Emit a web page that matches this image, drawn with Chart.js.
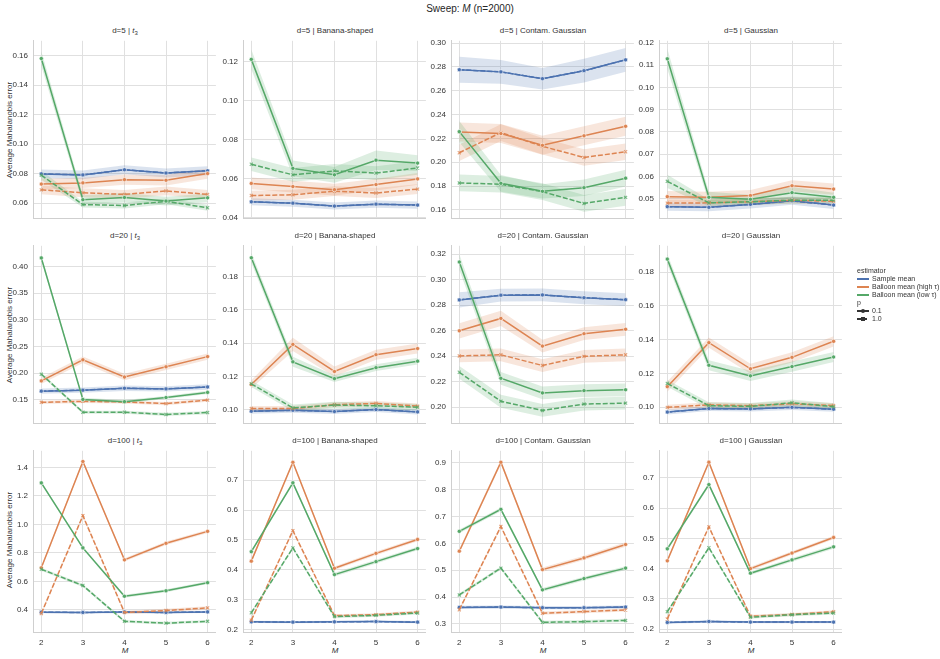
<!DOCTYPE html>
<html><head><meta charset="utf-8">
<script src="https://cdn.jsdelivr.net/npm/chart.js@4.4.1/dist/chart.umd.min.js"></script>
<style>
body{margin:0;background:#fff;width:940px;height:659px;position:relative;overflow:hidden;font-family:"Liberation Sans",Arial,sans-serif;color:#262626}
.abs{position:absolute}
.ptitle{position:absolute;font-size:8px;line-height:10px;font-weight:normal;color:#333;transform:translateX(-50%);white-space:nowrap}
.ptitle sub{font-size:6px;vertical-align:-2px;line-height:0}
.ylab{position:absolute;font-size:8px;color:#333;white-space:nowrap;transform:translate(-50%,-50%) rotate(-90deg)}
.xlab{position:absolute;font-size:8px;color:#333;font-style:italic;transform:translateX(-50%)}
.leg{position:absolute;left:857px;top:267px;font-size:7px;line-height:8px;color:#333}
.leg .row{position:relative;height:8px;white-space:nowrap}
.leg .ln{position:absolute;left:0;top:3px;width:12px;height:2px}
.leg .tx{position:absolute;left:15px;top:0}
.leg .mk{position:absolute;left:4px;top:2px;width:4px;height:4px;border-radius:50%;background:#333}
.leg .sq{position:absolute;left:4px;top:2px;width:4px;height:4px;background:#333}
</style></head>
<body>
<div class="abs" style="left:0;width:940px;top:3px;text-align:center;font-size:10px">Sweep: <i>M</i> (n=2000)</div>
<div id="root"></div>
<div class="leg">
  <div class="row"><span class="tx" style="left:0">estimator</span></div>
  <div class="row"><div class="ln" style="background:#4C72B0"></div><span class="tx">Sample mean</span></div>
  <div class="row"><div class="ln" style="background:#DD8452"></div><span class="tx">Balloon mean (high τ)</span></div>
  <div class="row"><div class="ln" style="background:#55A868"></div><span class="tx">Balloon mean (low τ)</span></div>
  <div class="row"><span class="tx" style="left:0">p</span></div>
  <div class="row"><div class="ln" style="background:#333"></div><div class="mk"></div><span class="tx">0.1</span></div>
  <div class="row"><div class="ln" style="background:repeating-linear-gradient(90deg,#333 0 4px,transparent 4px 6px)"></div><div class="sq"></div><span class="tx">1.0</span></div>
</div>
<script>
// ---------------- DATA ----------------
const M = [2, 3, 4, 5, 6];
const dims = ['d=5', 'd=20', 'd=100'];
const dists = ['<i>t</i><sub>3</sub>', 'Banana-shaped', 'Contam. Gaussian', 'Gaussian'];

// panels in row-major order: (d=5: t3, Banana, Contam, Gauss), (d=20 ...), (d=100 ...)
const sampleMean = [
  [0.0799,0.0792,0.0827,0.0805,0.0820],
  [0.0482,0.0475,0.0460,0.0470,0.0465],
  [0.2777,0.2759,0.2702,0.2769,0.2860],
  [0.0464,0.0461,0.0474,0.0490,0.0471],
  [0.1662,0.1680,0.1716,0.1704,0.1740],
  [0.0990,0.0996,0.0988,0.1000,0.0986],
  [0.2841,0.2878,0.2880,0.2858,0.2843],
  [0.0970,0.0991,0.0989,0.0998,0.0987],
  [0.384,0.382,0.385,0.382,0.386],
  [0.226,0.225,0.226,0.227,0.225],
  [0.3617,0.3629,0.3605,0.3605,0.3630],
  [0.2225,0.2257,0.2236,0.2236,0.2236]
];
const highTauP01 = [
  [0.0730,0.0738,0.0760,0.0756,0.0801],
  [0.0576,0.0560,0.0544,0.0570,0.0599],
  [0.2254,0.2241,0.2142,0.2222,0.2302],
  [0.0509,0.0506,0.0514,0.0558,0.0543],
  [0.1854,0.2250,0.1926,0.2118,0.2310],
  [0.1151,0.1392,0.1229,0.1330,0.1367],
  [0.2599,0.2696,0.2479,0.2576,0.2611],
  [0.1121,0.1382,0.1227,0.1295,0.1390],
  [0.695,1.441,0.751,0.867,0.951],
  [0.4289,0.7597,0.4050,0.4550,0.5016],
  [0.571,0.9024,0.5024,0.546,0.596],
  [0.4259,0.7514,0.4002,0.4516,0.5030]
];
const highTauP10 = [
  [0.0691,0.0671,0.0660,0.0684,0.0660],
  [0.0514,0.0518,0.0536,0.0527,0.0547],
  [0.2080,0.2249,0.2134,0.2040,0.2088],
  [0.0480,0.0481,0.0486,0.0493,0.0488],
  [0.1452,0.1470,0.1458,0.1428,0.1494],
  [0.1006,0.1006,0.1029,0.1037,0.1021],
  [0.2402,0.2411,0.2327,0.2399,0.2411],
  [0.0998,0.1013,0.1008,0.1019,0.1009],
  [0.375,1.061,0.382,0.3955,0.414],
  [0.2315,0.531,0.2466,0.250,0.2586],
  [0.353,0.663,0.340,0.346,0.352],
  [0.234,0.538,0.243,0.249,0.258]
];
const lowTauP01 = [
  [0.158,0.0624,0.0639,0.0615,0.0637],
  [0.1211,0.0653,0.0620,0.0695,0.0680],
  [0.2257,0.1823,0.1756,0.1786,0.1866],
  [0.1129,0.0506,0.0497,0.0527,0.0506],
  [0.4162,0.1506,0.1464,0.1542,0.1638],
  [0.1913,0.1287,0.1186,0.1252,0.1291],
  [0.3138,0.2227,0.2112,0.2130,0.2137],
  [0.1878,0.1248,0.1185,0.1240,0.1297],
  [1.291,0.835,0.4957,0.534,0.591],
  [0.4606,0.6909,0.3839,0.4273,0.471],
  [0.645,0.727,0.427,0.469,0.508],
  [0.4655,0.6775,0.385,0.429,0.472]
];
const lowTauP10 = [
  [0.0790,0.0591,0.0585,0.0613,0.0570],
  [0.0674,0.0620,0.0640,0.0629,0.0655],
  [0.1826,0.1815,0.1753,0.1654,0.1705],
  [0.0578,0.0481,0.0486,0.0493,0.0493],
  [0.1980,0.1266,0.1266,0.1224,0.1260],
  [0.1155,0.1010,0.1027,0.1023,0.1014],
  [0.2274,0.2047,0.1975,0.2025,0.2032],
  [0.1140,0.1008,0.1004,0.1025,0.1002],
  [0.685,0.571,0.320,0.307,0.320],
  [0.2564,0.4733,0.2434,0.2477,0.2553],
  [0.408,0.508,0.306,0.3085,0.313],
  [0.258,0.469,0.2396,0.248,0.2535]
];
// confidence-band half widths
const ciSample = [
  [0.003,0.003,0.003,0.003,0.003],[0.0018,0.0018,0.0018,0.0018,0.0018],[0.011,0.010,0.009,0.010,0.010],[0.0018,0.0018,0.0018,0.0018,0.0018],
  [0.005,0.005,0.005,0.005,0.005],[0.0015,0.0015,0.0015,0.0015,0.0015],[0.006,0.005,0.005,0.005,0.005],[0.0015,0.0015,0.0015,0.0015,0.0015],
  [0.008,0.008,0.008,0.008,0.008],[0.004,0.004,0.004,0.004,0.004],[0.006,0.006,0.006,0.006,0.006],[0.004,0.004,0.004,0.004,0.004]
];
const ciHighP01 = [
  [0.0038,0.0035,0.0035,0.0035,0.0035],[0.003,0.003,0.003,0.003,0.003],[0.008,0.008,0.008,0.008,0.008],[0.0025,0.0025,0.0025,0.0025,0.0025],
  [0.006,0.006,0.006,0.006,0.006],[0.0025,0.004,0.003,0.003,0.003],[0.006,0.006,0.005,0.005,0.005],[0.003,0.003,0.003,0.003,0.003],
  [0.012,0.012,0.012,0.012,0.012],[0.006,0.006,0.006,0.006,0.006],[0.008,0.008,0.008,0.008,0.008],[0.006,0.006,0.006,0.006,0.006]
];
const ciHighP10 = [
  [0.003,0.003,0.003,0.003,0.003],[0.0025,0.0025,0.0025,0.0025,0.0025],[0.007,0.007,0.007,0.007,0.007],[0.0015,0.0015,0.0015,0.0015,0.0015],
  [0.003,0.003,0.003,0.003,0.003],[0.0015,0.0015,0.0015,0.0015,0.0015],[0.005,0.005,0.005,0.005,0.005],[0.0015,0.0015,0.0015,0.0015,0.0015],
  [0.012,0.012,0.012,0.012,0.012],[0.005,0.005,0.005,0.005,0.005],[0.006,0.006,0.006,0.006,0.006],[0.005,0.005,0.005,0.005,0.005]
];
const ciLowP01 = [
  [0.005,0.003,0.003,0.003,0.003],[0.005,0.004,0.004,0.005,0.004],[0.009,0.007,0.006,0.007,0.007],[0.0045,0.0025,0.002,0.0025,0.002],
  [0.005,0.003,0.003,0.003,0.003],[0.003,0.003,0.002,0.002,0.002],[0.006,0.005,0.005,0.005,0.005],[0.003,0.003,0.003,0.003,0.003],
  [0.010,0.010,0.010,0.010,0.010],[0.006,0.006,0.006,0.006,0.006],[0.007,0.007,0.007,0.007,0.007],[0.006,0.006,0.006,0.006,0.006]
];
const ciLowP10 = [
  [0.003,0.002,0.002,0.002,0.002],[0.0035,0.0035,0.0035,0.0035,0.0035],[0.007,0.007,0.007,0.007,0.007],[0.003,0.0015,0.0015,0.0015,0.0015],
  [0.003,0.003,0.003,0.003,0.003],[0.002,0.002,0.002,0.002,0.002],[0.005,0.005,0.005,0.005,0.005],[0.002,0.002,0.002,0.002,0.002],
  [0.010,0.010,0.010,0.010,0.010],[0.005,0.005,0.005,0.005,0.005],[0.006,0.006,0.006,0.006,0.006],[0.005,0.005,0.005,0.005,0.005]
];
// y-axis limits and tick steps per panel
const yMin  = [0.0499,0.0398,0.153,0.0412,0.106,0.0918,0.1875,0.0904,0.245,0.192,0.270,0.191];
const yMax  = [0.170,0.1306,0.302,0.121,0.439,0.1985,0.3265,0.1957,1.516,0.798,0.945,0.789];
const yStep = [0.02,0.02,0.02,0.01,0.05,0.02,0.02,0.02,0.2,0.1,0.1,0.1];

// ---------------- LAYOUT ----------------
const FONT = '"Liberation Sans", Arial, sans-serif';
const colLeft = [33, 243, 451, 659];
const rowTop = [37, 242, 447];
const PW = 184, PH = 185, YW = 40, PADT = 6;
const BLUE = '#4C72B0', ORANGE = '#DD8452', GREEN = '#55A868';
function rgba(hex, a) {
  const n = parseInt(hex.slice(1), 16);
  return `rgba(${(n>>16)&255},${(n>>8)&255},${n&255},${a})`;
}
const seriesDefs = [
  {vals: lowTauP01,  ci: ciLowP01,  color: GREEN,  dashed: false, order: 1, band: true},
  {vals: lowTauP10,  ci: ciLowP10,  color: GREEN,  dashed: true,  order: 2, band: true},
  {vals: highTauP01, ci: ciHighP01, color: ORANGE, dashed: false, order: 3, band: true},
  {vals: highTauP10, ci: ciHighP10, color: ORANGE, dashed: true,  order: 4, band: true},
  {vals: sampleMean, ci: ciSample,  color: BLUE,   dashed: true,  order: 6, band: false},
  {vals: sampleMean, ci: ciSample,  color: BLUE,   dashed: false, order: 5, band: true}
];

const root = document.getElementById('root');
for (let r = 0; r < 3; r++) {
  const yl = document.createElement('div');
  yl.className = 'ylab';
  yl.style.left = '9px'; yl.style.top = (rowTop[r] + PH / 2) + 'px';
  yl.textContent = 'Average Mahalanobis error';
  root.appendChild(yl);
  for (let c = 0; c < 4; c++) {
    const i = r * 4 + c;
    const t = document.createElement('div');
    t.className = 'ptitle';
    t.style.left = (colLeft[c] + PW / 2) + 'px';
    t.style.top = (rowTop[r] - 11) + 'px';
    t.innerHTML = dims[r] + ' | ' + dists[c];
    root.appendChild(t);
    if (r === 2) {
      const xl = document.createElement('div');
      xl.className = 'xlab';
      xl.style.left = (colLeft[c] + PW / 2) + 'px';
      xl.style.top = (rowTop[r] + PH + 14) + 'px';
      xl.textContent = 'M';
      root.appendChild(xl);
    }
    const bottomH = r === 2 ? 18 : 6;
    const cv = document.createElement('canvas');
    const W = YW + PW + 4, H = PADT + PH + bottomH;
    cv.width = W; cv.height = H;
    cv.style.cssText = `position:absolute;left:${colLeft[c]-YW}px;top:${rowTop[r]-PADT}px;width:${W}px;height:${H}px`;
    root.appendChild(cv);

    const datasets = [];
    seriesDefs.forEach((s, k) => {
      if (!s.band) return;
      const v = s.vals[i], e = s.ci[i];
      datasets.push({data: M.map((x, j) => ({x, y: v[j] + e[j]})), borderColor: 'transparent', borderWidth: 1,
        pointRadius: 0, fill: false, order: 20 + k});
      datasets.push({data: M.map((x, j) => ({x, y: v[j] - e[j]})), borderColor: 'transparent', borderWidth: 1,
        pointRadius: 0, fill: '-1', backgroundColor: rgba(s.color, 0.2), order: 20 + k});
    });
    seriesDefs.forEach(s => {
      const v = s.vals[i];
      datasets.push({
        data: M.map((x, j) => ({x, y: v[j]})),
        borderColor: s.color, borderWidth: 1.5, borderDash: s.dashed ? [5, 2] : [],
        pointStyle: s.dashed ? 'crossRot' : 'circle',
        pointRadius: s.dashed ? 2.2 : 2.1,
        pointBackgroundColor: s.color,
        pointBorderColor: s.dashed ? rgba(s.color, 0.75) : '#ffffff',
        pointBorderWidth: s.dashed ? 1.1 : 0.6,
        fill: false, order: s.order
      });
    });
    const dec = yStep[i] >= 0.1 ? 1 : 2;
    new Chart(cv, {
      type: 'line',
      data: {datasets},
      options: {
        responsive: false, animation: false, devicePixelRatio: 1,
        layout: {padding: {top: PADT, right: 4, left: 0, bottom: 0}},
        elements: {line: {tension: 0}},
        plugins: {legend: {display: false}, tooltip: {enabled: false}, title: {display: false}},
        scales: {
          x: {
            type: 'linear', min: 1.8, max: 6.2,
            afterBuildTicks: sc => { sc.ticks = M.map(v => ({value: v})); },
            afterFit: sc => { sc.height = bottomH; },
            grid: {color: '#e0e0e0', lineWidth: 1, drawTicks: false},
            border: {display: true, color: '#cfcfcf', width: 1},
            ticks: {display: r === 2, padding: 6, color: '#333', font: {size: 8, family: FONT},
              maxRotation: 0, autoSkip: false, callback: v => String(v)}
          },
          y: {
            type: 'linear', min: yMin[i], max: yMax[i],
            afterBuildTicks: sc => {
              const st = yStep[i], out = [];
              for (let n = Math.ceil(yMin[i] / st - 1e-6); n * st <= yMax[i] + 1e-9; n++) out.push({value: +(n * st).toFixed(4)});
              sc.ticks = out;
            },
            afterFit: sc => { sc.width = YW; },
            grid: {color: '#e0e0e0', lineWidth: 1, drawTicks: false},
            border: {display: true, color: '#cfcfcf', width: 1},
            ticks: {padding: 5, color: '#333', font: {size: 8, family: FONT}, callback: v => Number(v).toFixed(dec)}
          }
        }
      }
    });
  }
}
</script>
</body></html>
